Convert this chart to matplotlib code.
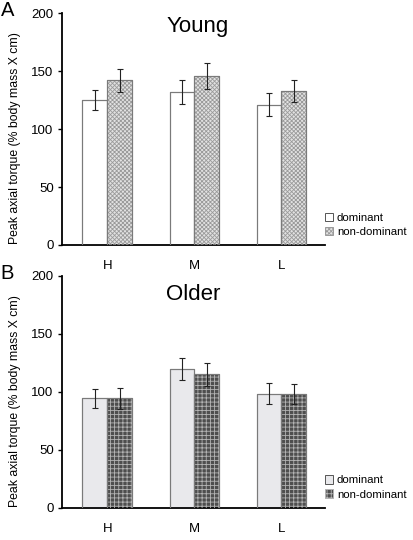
import matplotlib.pyplot as plt
from matplotlib.patches import Patch
import numpy as np

plt.rcParams['font.family'] = ['Liberation Sans', 'DejaVu Sans']
plt.rcParams['hatch.linewidth'] = 0.6

categorie = ['H', 'M', 'L']
giovani_dom = [125, 132, 121]
giovani_dom_err = [9, 10.5, 10]
giovani_nondom = [142, 145.5, 133]
giovani_nondom_err = [10, 11, 9.5]
anziani_dom = [94.5, 119.5, 98.5]
anziani_dom_err = [8.2, 9.7, 9]
anziani_nondom = [94.5, 115, 98]
anziani_nondom_err = [9, 10, 8.8]

fig = plt.figure(figsize=(4.14, 5.4), dpi=100)
ax1 = fig.add_axes([0.1498, 0.5463, 0.635, 0.4296])
ax2 = fig.add_axes([0.1498, 0.0598, 0.635, 0.4291])

x = np.arange(len(categorie))
w = 0.285


def pannello(ax, dom, dom_err, nondom, nondom_err, stile_dom, stile_nondom, titolo, ytit):
    for vals, err, off, st in [(dom, dom_err, -w / 2, stile_dom), (nondom, nondom_err, w / 2, stile_nondom)]:
        ax.bar(x + off, vals, w, color=st['fc'], edgecolor='#7a7a7a', linewidth=0.8, zorder=2)
        if st.get('hatch'):
            ax.bar(x + off, vals, w, fill=False, hatch=st['hatch'], edgecolor=st['hc'], linewidth=0, zorder=3)
        ax.bar(x + off, vals, w, fill=False, edgecolor='#7a7a7a', linewidth=0.8, zorder=4)
        ax.errorbar(x + off, vals, yerr=err, fmt='none', ecolor='#222222', elinewidth=0.8,
                    capsize=2.3, capthick=0.8, zorder=5)
    ax.set_xlim(-0.52, 2.5)
    ax.set_ylim(0, 200)
    ax.set_yticks([0, 50, 100, 150, 200])
    ax.set_xticks(x)
    ax.set_xticklabels(categorie)
    ax.tick_params(axis='x', length=0, pad=11, labelsize=9.5)
    ax.tick_params(axis='y', direction='out', length=3, width=1, pad=3, labelsize=9.5)
    for s in ['top', 'right']:
        ax.spines[s].set_visible(False)
    ax.spines['left'].set_linewidth(1.3)
    ax.spines['bottom'].set_linewidth(1.3)
    ax.set_ylabel('Peak axial torque (% body mass X cm)', fontsize=8.8)
    ax.yaxis.set_label_coords(-0.155, 0.46)
    ax.text(titolo[1], titolo[2], titolo[0], transform=ax.transAxes, ha='center', va='baseline', fontsize=16)

    h_dom = Patch(facecolor=stile_dom['fc'], edgecolor='#555555', linewidth=0.7)
    h_nd = Patch(facecolor=stile_nondom['fc'], edgecolor=stile_nondom.get('hc', '#555555'),
                 hatch=stile_nondom.get('hatch'), linewidth=0.7)
    ax.legend([h_dom, h_nd], ['dominant', 'non-dominant'], loc='lower left',
              bbox_to_anchor=(1.0, ytit), frameon=False, fontsize=8.2,
              handlelength=0.75, handleheight=0.75, handletextpad=0.3,
              labelspacing=0.35, borderpad=0, borderaxespad=0)


pannello(ax1, giovani_dom, giovani_dom_err, giovani_nondom, giovani_nondom_err,
         {'fc': 'white'}, {'fc': '#e2e2e2', 'hatch': 'xxxxxxxx', 'hc': '#9a9a9a'},
         ('Young', 0.517, 0.918), 0.035)
pannello(ax2, anziani_dom, anziani_dom_err, anziani_nondom, anziani_nondom_err,
         {'fc': '#e9e9ec'}, {'fc': '#4e4e4e', 'hatch': '++++', 'hc': '#b4b4b4'},
         ('Older', 0.498, 0.896), 0.035)

fig.text(0.002, 1 - 16 / 540, 'A', fontsize=14.5, va='baseline')
fig.text(0.002, 1 - 279 / 540, 'B', fontsize=14.5, va='baseline')

plt.savefig('out.png', dpi=100)
